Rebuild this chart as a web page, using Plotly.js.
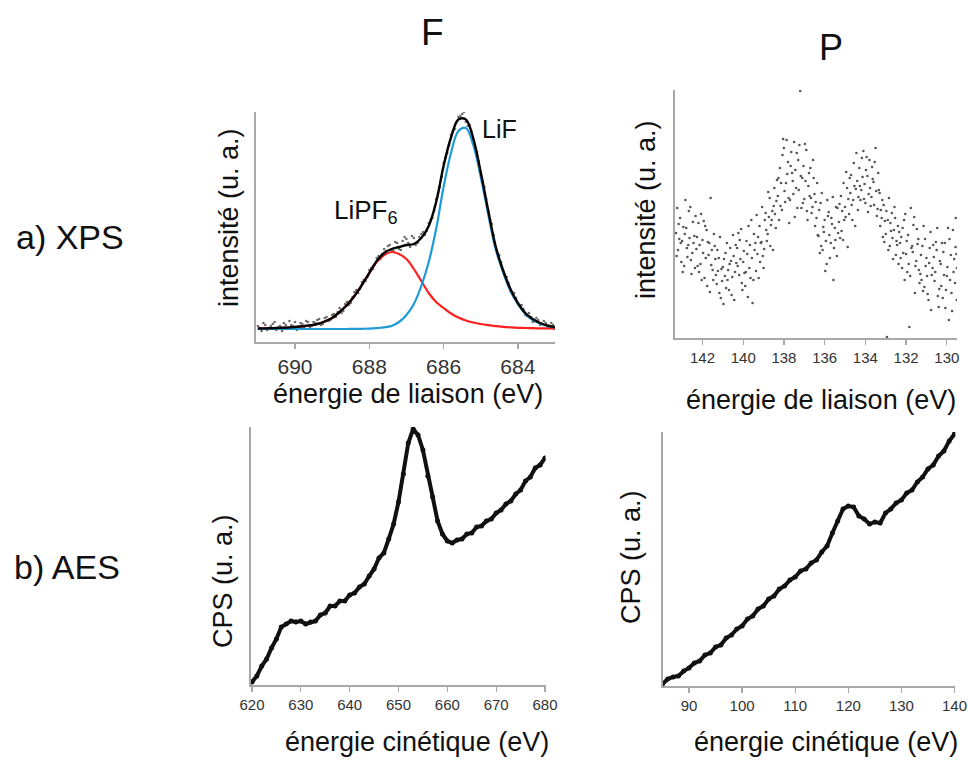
<!DOCTYPE html>
<html>
<head>
<meta charset="utf-8">
<script src="https://cdn.plot.ly/plotly-3.0.1.min.js"></script>
<style>html,body{margin:0;padding:0;background:#fff;}#chart{width:968px;height:760px;}</style>
</head>
<body>
<div id="chart"></div>
<script>
// ---------- XPS F 1s (binding energy, eV) ----------
const xpsFfitX = [691.0,690.8,690.6,690.4,690.2,690.0,689.8,689.6,689.4,689.2,689.0,688.8,688.6,688.4,688.2,688.0,687.8,687.6,687.4,687.2,687.0,686.8,686.6,686.4,686.2,686.0,685.8,685.6,685.4,685.2,685.0,684.8,684.6,684.4,684.2,684.0,683.8,683.6,683.4,683.2,683.0];
const xpsFLiF   = [0,0,0,0,0,0,0,0,0,0,0,0,0,0.1,0.2,0.4,0.9,1.6,3,7,14,25,43,67,100,142,176,198,201,184,152,115,80,57,38,25,15,9,5.5,3,1.5];
const xpsFLiPF6 = [0.5,0.6,0.8,1.1,1.4,2.0,2.7,3.6,5.0,7.5,11,17,24,33,44,56,67,74,77,75,70,60,48,36,27,21,15.5,11.5,8.5,6.5,5.0,3.8,2.8,2.1,1.6,1.2,1.0,0.8,0.6,0.5,0.4];
const xpsFenv   = [0.5,0.6,0.8,1.1,1.4,2.0,2.7,3.6,5.0,7.5,11,17,24,33,44,56,68,76,80,82,84,85,91,103,127,163,191.5,209.5,209.5,190.5,157,119,83,59,40,26,16,10,6,3.5,1.9];
const xpsFdataX = [691.0,690.9,690.8,690.7,690.6,690.5,690.4,690.3,690.2,690.1,690.0,689.9,689.8,689.7,689.6,689.5,689.4,689.3,689.2,689.1,689.0,688.9,688.8,688.7,688.6,688.5,688.4,688.3,688.2,688.1,688.0,687.9,687.8,687.7,687.6,687.5,687.4,687.3,687.2,687.1,687.0,686.9,686.8,686.7,686.6,686.5,686.4,686.3,686.2,686.1,686.0,685.9,685.8,685.7,685.6,685.5,685.4,685.3,685.2,685.1,685.0,684.9,684.8,684.7,684.6,684.5,684.4,684.3,684.2,684.1,684.0,683.9,683.8,683.7,683.6,683.5,683.4,683.3,683.2,683.1,683.0,
  690.95,690.85,690.75,690.65,690.55,690.45,690.35,690.25,690.15,690.05,689.95,689.85,689.75,689.65,689.55,689.45,689.35,689.25,689.15,689.05,688.95,688.85,688.75,688.65,688.55,688.45,688.35,688.25,688.15,688.05,687.95,687.85,687.75,687.65,687.55,687.45,687.35,687.25,687.15,687.05,686.95,686.85,686.75,686.65,686.55,686.45,686.35,686.25,686.15,686.05,685.95,685.85,685.75,685.65,685.55,685.45,685.35,685.25,685.15,685.05,684.95,684.85,684.75,684.65,684.55,684.45,684.35,684.25,684.15,684.05,683.95,683.85,683.75,683.65,683.55,683.45,683.35,683.25,683.15,683.05];
const xpsFdataY = [3,-2,4,1,5,-1,3,6,0,4,7,1,5,8,2,7,9,4,11,8,14,12,21,18,27,26,37,36,47,48,59,60,71,70,80,83,79,87,80,88,90,82,91,86,95,94,106,111,130,142,166,176,194,200,212,215,207,204,189,177,156,142,118,105,82,74,58,52,38,36,25,24,14,16,7,11,4,8,1,6,0,
  1,6,-1,3,7,2,-2,4,8,3,-1,6,1,7,3,6,10,5,12,9,15,17,16,25,24,32,39,40,49,52,61,64,73,75,78,84,78,86,79,92,86,93,84,92,97,98,109,118,136,152,172,184,198,207,213,217,203,198,181,168,148,130,110,94,76,67,53,46,35,31,23,20,13,12,8,9,5,6,2,4];

// ---------- XPS P 2p (binding energy, eV) ----------
const xpsPx = [143.3,143.2,143.1,143.0,142.9,142.8,142.7,142.6,142.5,142.4,142.3,142.2,142.1,142.0,141.9,141.8,141.7,141.6,141.5,141.4,141.3,141.2,141.1,141.0,140.9,140.8,140.7,140.6,140.5,140.4,140.3,140.2,140.1,140.0,139.9,139.8,139.7,139.6,139.5,139.4,139.3,139.2,139.1,139.0,138.9,138.8,138.7,138.6,138.5,138.4,138.3,138.2,138.1,138.0,137.9,137.8,137.7,137.6,137.5,137.4,137.3,137.2,137.1,137.0,136.9,136.8,136.7,136.6,136.5,136.4,136.3,136.2,136.1,136.0,135.9,135.8,135.7,135.6,135.5,135.4,135.3,135.2,135.1,135.0,134.9,134.8,134.7,134.6,134.5,134.4,134.3,134.2,134.1,134.0,133.9,133.8,133.7,133.6,133.5,133.4,133.3,133.2,133.1,133.0,132.9,132.8,132.7,132.6,132.5,132.4,132.3,132.2,132.1,132.0,131.9,131.8,131.7,131.6,131.5,131.4,131.3,131.2,131.1,131.0,130.9,130.8,130.7,130.6,130.5,130.4,130.3,130.2,130.1,130.0,129.9,129.8,129.7,129.6,129.5];
const xpsPxB = [143.27,143.17,143.07,142.97,142.87,142.77,142.67,142.57,142.47,142.37,142.27,142.17,142.07,141.97,141.87,141.77,141.67,141.57,141.47,141.37,141.27,141.17,141.07,140.97,140.87,140.77,140.67,140.57,140.47,140.37,140.27,140.17,140.07,139.97,139.87,139.77,139.67,139.57,139.47,139.37,139.27,139.17,139.07,138.97,138.87,138.77,138.67,138.57,138.47,138.37,138.27,138.17,138.07,137.97,137.87,137.77,137.67,137.57,137.47,137.37,137.27,137.17,137.07,136.97,136.87,136.77,136.67,136.57,136.47,136.37,136.27,136.17,136.07,135.97,135.87,135.77,135.67,135.57,135.47,135.37,135.27,135.17,135.07,134.97,134.87,134.77,134.67,134.57,134.47,134.37,134.27,134.17,134.07,133.97,133.87,133.77,133.67,133.57,133.47,133.37,133.27,133.17,133.07,132.97,132.87,132.77,132.67,132.57,132.47,132.37,132.27,132.17,132.07,131.97,131.87,131.77,131.67,131.57,131.47,131.37,131.27,131.17,131.07,130.97,130.87,130.77,130.67,130.57,130.47,130.37,130.27,130.17,130.07,129.97,129.87,129.77,129.67,129.57,129.51];
const xpsPxC = [143.24,143.14,143.04,142.94,142.84,142.74,142.64,142.54,142.44,142.34,142.24,142.14,142.04,141.94,141.84,141.74,141.64,141.54,141.44,141.34,141.24,141.14,141.04,140.94,140.84,140.74,140.64,140.54,140.44,140.34,140.24,140.14,140.04,139.94,139.84,139.74,139.64,139.54,139.44,139.34,139.24,139.14,139.04,138.94,138.84,138.74,138.64,138.54,138.44,138.34,138.24,138.14,138.04,137.94,137.84,137.74,137.64,137.54,137.44,137.34,137.24,137.14,137.04,136.94,136.84,136.74,136.64,136.54,136.44,136.34,136.24,136.14,136.04,135.94,135.84,135.74,135.64,135.54,135.44,135.34,135.24,135.14,135.04,134.94,134.84,134.74,134.64,134.54,134.44,134.34,134.24,134.14,134.04,133.94,133.84,133.74,133.64,133.54,133.44,133.34,133.24,133.14,133.04,132.94,132.84,132.74,132.64,132.54,132.44,132.34,132.24,132.14,132.04,131.94,131.84,131.74,131.64,131.54,131.44,131.34,131.24,131.14,131.04,130.94,130.84,130.74,130.64,130.54,130.44,130.34,130.24,130.14,130.04,129.94,129.84,129.74,129.64,129.56,129.53];
const xpsPyA = [105,88,120,97,72,110,93,131,85,102, 89,115,74,98,60,108,83,140,68,92, 54,80,40,71,62,95,48,77,103,66, 90,63,109,76,52,84,70,118,58,95, 84,112,96,70,125,104,140,118,132,110, 142,170,128,190,155,176,138,165,196,150, 178,247,160,139,188,152,170,131,144,120, 102,135,88,118,74,126,95,141,110,82, 116,142,98,131,150,124,163,138,112,157, 170,148,187,135,162,178,141,156,190,129, 145,120,133,104,118,92,125,108,83,112, 95,70,118,84,103,62,92,121,77,99, 64,92,51,80,38,106,70,57,88,31, 74,40,95,62,18,83,108,55,70];
const xpsPyB = [82,114,95,66,104,90,127,78,116,70, 101,66,124,85,112,52,95,73,58,79, 88,45,69,34,85,58,74,43,82,93, 72,98,55,87,66,41,93,80,104,67, 101,76,131,89,108,146,92,127,150,137, 160,132,183,147,198,140,172,157,121,185, 148,162,135,194,127,165,140,178,112,155, 128,92,111,67,138,103,120,58,98,130, 134,107,155,121,91,160,133,175,149,128, 152,180,139,168,126,150,171,133,147,165, 112,138,96,127,88,115,100,131,97,74, 80,110,58,97,74,130,86,45,109,68, 83,47,99,62,75,28,93,66,110,49, 52,86,30,71,99,45,66,91,38];
const xpsPyC = [130,99,76,111,138,81,100,64,95,122, 72,93,58,117,80,96,46,88,104,63, 67,101,57,79,50,68,90,61,38,75, 105,79,48,65,97,112,60,35,88,123, 60,95,82,118,97,121,113,88,124,158, 118,155,199,136,164,115,186,144,168,130, 193,130,172,157,118,142,125,160,136,103, 85,145,106,97,122,80,114,90,131,105, 100,127,118,166,139,145,118,152,185,141, 138,161,154,181,144,132,159,176,122,148, 128,101,117,1,140,107,79,120,93,106, 101,85,124,66,11,90,113,72,94,55, 58,112,72,44,90,63,81,96,42,77, 95,63,48,110,58,27,79,120,84];

// ---------- AES F KLL (kinetic energy, eV) ----------
const aesFx = [620,621,622,623,624,625,626,627,628,629,630,631,632,633,634,635,636,637,638,639,640,641,642,643,644,645,646,647,648,649,650,651,652,653,654,655,656,657,658,659,660,661,662,663,664,665,666,667,668,669,670,671,672,673,674,675,676,677,678,679,680];
const aesFy = [3,9,19,26,37,46,58,61,64,63,64,61,63,64,70,72,79,79,84,84,90,92,98,101,109,116,127,132,146,161,183,211,242,256,250,235,209,188,164,151,144,142,145,146,151,152,158,159,164,166,172,175,181,184,191,195,204,208,217,220,227];

// ---------- AES P LVV (kinetic energy, eV) ----------
const aesPx = [85,86,87,88,89,90,91,92,93,94,95,96,97,98,99,100,101,102,103,104,105,106,107,108,109,110,111,112,113,114,115,116,117,118,119,120,121,122,123,124,125,126,127,128,129,130,131,132,133,134,135,136,137,138,139,140];
const aesPy = [2,7,9,10,15,18,23,25,31,33,39,41,48,51,57,60,67,70,77,80,87,90,97,100,106,109,115,117,123,126,134,140,153,165,177,180,179,170,167,162,164,163,173,177,183,186,193,196,204,209,217,221,230,235,245,252];

const FONT = 'Liberation Sans, Arial, sans-serif';
const W = 968, H = 760;
const px = v => v / W;
const py = v => 1 - v / H;

const traces = [
  {x: xpsFdataX, y: xpsFdataY, type: 'scatter', mode: 'markers', marker: {size: 2.6, color: '#6d6d6d'}, xaxis: 'x', yaxis: 'y', hoverinfo: 'skip'},
  {x: xpsFfitX, y: xpsFLiPF6, type: 'scatter', mode: 'lines', line: {color: '#ff1f1f', width: 2.2, shape: 'spline'}, xaxis: 'x', yaxis: 'y', name: 'LiPF6'},
  {x: xpsFfitX, y: xpsFLiF, type: 'scatter', mode: 'lines', line: {color: '#1e9bd7', width: 2.2, shape: 'spline'}, xaxis: 'x', yaxis: 'y', name: 'LiF'},
  {x: xpsFfitX, y: xpsFenv, type: 'scatter', mode: 'lines', line: {color: '#000000', width: 2.4, shape: 'spline'}, xaxis: 'x', yaxis: 'y', name: 'fit'},
  {x: xpsPx, y: xpsPyA, type: 'scatter', mode: 'markers', marker: {size: 2.6, color: '#555'}, xaxis: 'x2', yaxis: 'y2'},
  {x: xpsPxB, y: xpsPyB, type: 'scatter', mode: 'markers', marker: {size: 2.6, color: '#555'}, xaxis: 'x2', yaxis: 'y2'},
  {x: xpsPxC, y: xpsPyC, type: 'scatter', mode: 'markers', marker: {size: 2.6, color: '#555'}, xaxis: 'x2', yaxis: 'y2'},
  {x: aesFx, y: aesFy, type: 'scatter', mode: 'lines+markers', line: {color: '#111', width: 4}, marker: {size: 5, color: '#111'}, xaxis: 'x3', yaxis: 'y3'},
  {x: aesPx, y: aesPy, type: 'scatter', mode: 'lines+markers', line: {color: '#111', width: 4}, marker: {size: 5, color: '#111'}, xaxis: 'x4', yaxis: 'y4'}
];

function xAx(domain, range, dtick, tick0, fsize, anchor) {
  return {
    domain: domain, range: range, dtick: dtick, tick0: tick0, anchor: anchor,
    showline: true, linecolor: '#a8a8a8', linewidth: 1.6, showgrid: false, zeroline: false, fixedrange: true,
    ticks: 'outside', ticklen: 5, tickwidth: 1.3, tickcolor: '#a8a8a8', tickangle: 0,
    ticklabeloverflow: 'allow',
    tickfont: {family: FONT, size: fsize, color: '#333'}
  };
}
function yAx(domain, range, anchor) {
  return {
    domain: domain, range: range, anchor: anchor,
    showline: true, linecolor: '#a8a8a8', linewidth: 1.6, showgrid: false, zeroline: false, fixedrange: true,
    showticklabels: false, ticks: ''
  };
}

const ann = (text, x, y, size, opts) => Object.assign({
  text, x: px(x), y: py(y), xref: 'paper', yref: 'paper', showarrow: false,
  xanchor: 'center', yanchor: 'middle', font: {family: FONT, size, color: '#111'}
}, opts || {});

const layout = {
  width: W, height: H,
  margin: {l: 0, r: 0, t: 0, b: 0},
  paper_bgcolor: '#fff', plot_bgcolor: 'rgba(0,0,0,0)',
  showlegend: false,
  xaxis:  xAx([px(256), px(555)], [691.05, 683.0], 2, 684, 21, 'y'),
  yaxis:  yAx([py(342), py(112)], [-13, 217], 'x'),
  xaxis2: xAx([px(675), px(957)], [143.35, 129.5], 2, 130, 15, 'y2'),
  yaxis2: yAx([py(338), py(90)], [0, 248], 'x2'),
  xaxis3: xAx([px(251), px(545.5)], [619.8, 680.1], 10, 620, 15, 'y3'),
  yaxis3: yAx([py(685), py(427)], [0, 258], 'x3'),
  xaxis4: xAx([px(663), px(955.3)], [85.1, 140.15], 10, 90, 15, 'y4'),
  yaxis4: yAx([py(686), py(432)], [0, 254], 'x4'),
  annotations: [
    ann('F', 432, 33, 37),
    ann('P', 831, 47, 36),
    ann('a) XPS', 14, 237, 34, {xanchor: 'left'}),
    ann('b) AES', 12, 567, 34, {xanchor: 'left'}),
    ann('LiPF<sub>6</sub>', 366, 212, 26),
    ann('LiF', 500, 129, 25),
    ann('énergie de liaison (eV)', 408, 394, 27),
    ann('énergie de liaison (eV)', 821, 400, 27),
    ann('énergie cinétique (eV)', 417, 742, 27),
    ann('énergie cinétique (eV)', 826, 742, 27),
    ann('intensité (u. a.)', 229, 218, 27, {textangle: -90}),
    ann('intensité (u. a.)', 646, 210, 27, {textangle: -90}),
    ann('CPS (u. a.)', 223, 581, 27, {textangle: -90}),
    ann('CPS (u. a.)', 631, 557, 27, {textangle: -90})
  ]
};

Plotly.newPlot('chart', traces, layout, {displayModeBar: false, staticPlot: true});
</script>
</body>
</html>
